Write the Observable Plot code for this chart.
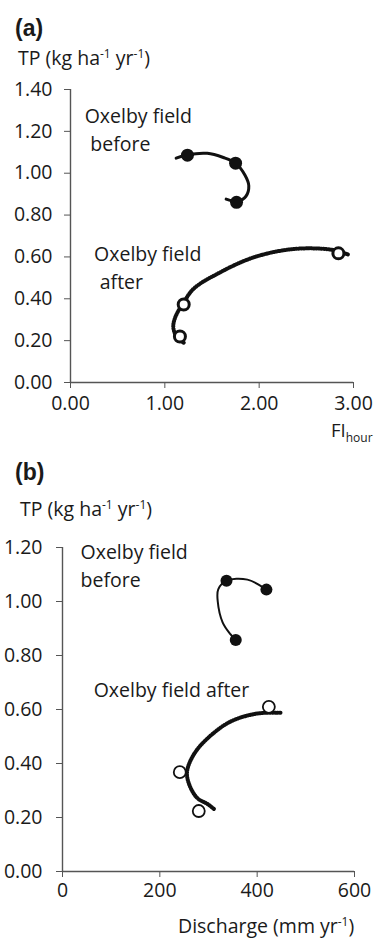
<!DOCTYPE html>
<html><head><meta charset="utf-8">
<script src="https://cdn.jsdelivr.net/npm/d3@7"></script>
<script src="https://cdn.jsdelivr.net/npm/@observablehq/plot@0.6"></script>
<style>
body{margin:0;background:#fff;font-family:"Open Sans",sans-serif;color:#1a1a1a}
#wrap{position:relative;width:375px;height:938px;overflow:hidden}
.abs{position:absolute;white-space:nowrap;line-height:1}
.pl{font-family:"Liberation Sans",Arial,sans-serif;font-weight:bold;font-size:23px}
.yl{font-size:19.5px}
sup,sub{font-size:12px;line-height:0}
</style></head>
<body><div id="wrap">
<div class="abs pl" style="left:15px;top:17px">(a)</div>
<div class="abs yl" style="left:18px;top:48px">TP (kg ha<sup>-1</sup> yr<sup>-1</sup>)</div>
<div id="pa" class="abs" style="left:0;top:75px"></div>
<div class="abs" style="left:331px;top:421px;font-size:18.5px">FI<sub style="vertical-align:-5px">hour</sub></div>
<div class="abs pl" style="left:15px;top:461px">(b)</div>
<div class="abs yl" style="left:20px;top:499px">TP (kg ha<sup>-1</sup> yr<sup>-1</sup>)</div>
<div id="pb" class="abs" style="left:0;top:530px"></div>
<div class="abs yl" style="left:178px;top:916px">Discharge (mm yr<sup>-1</sup>)</div>
</div>
<script>
// Panel (a): TP vs FI_hour
const aYTicks = [0, 0.2, 0.4, 0.6, 0.8, 1.0, 1.2, 1.4];
const aXTicks = [0, 1, 2, 3];
const aBeforeX = [1.24, 1.75, 1.76];
const aBeforeY = [1.086, 1.048, 0.861];
const aAfterX = [2.84, 1.20, 1.16];
const aAfterY = [0.617, 0.373, 0.22];
const aBeforeCurveX = [1.12, 1.24, 1.45, 1.62, 1.75, 1.85, 1.89, 1.86, 1.77, 1.65];
const aBeforeCurveY = [1.072, 1.088, 1.095, 1.075, 1.048, 0.99, 0.94, 0.89, 0.865, 0.876];
const aAfterCurveX = [1.20, 1.13, 1.09, 1.11, 1.20, 1.31, 1.56, 1.91, 2.26, 2.54, 2.80, 2.94];
const aAfterCurveY = [0.19, 0.215, 0.263, 0.311, 0.383, 0.45, 0.52, 0.593, 0.632, 0.641, 0.632, 0.612];
const aLabels = ["Oxelby field", "before", "Oxelby field", "after"];
const aLabelX = [0.15, 0.21, 0.25, 0.31];
const aLabelY = [1.268, 1.134, 0.612, 0.478];

// Panel (b): TP vs Discharge
const bYTicks = [0, 0.2, 0.4, 0.6, 0.8, 1.0, 1.2];
const bXTicks = [0, 200, 400, 600];
const bBeforeX = [337, 419, 356];
const bBeforeY = [1.077, 1.044, 0.857];
const bAfterX = [424, 241, 280];
const bAfterY = [0.61, 0.368, 0.224];
const bBeforeCurveX = [419, 380, 337, 320, 319, 329, 345, 356];
const bBeforeCurveY = [1.044, 1.081, 1.077, 1.045, 1.0, 0.923, 0.879, 0.857];
const bAfterCurveX = [448, 400, 345, 298, 270, 256, 260, 277, 298, 311];
const bAfterCurveY = [0.588, 0.585, 0.555, 0.493, 0.434, 0.371, 0.324, 0.272, 0.25, 0.232];
const bLabels = ["Oxelby field", "before", "Oxelby field after"];
const bLabelX = [37, 37, 64];
const bLabelY = [1.18, 1.077, 0.669];

const zip = (xs, ys) => xs.map((x, i) => ({x, y: ys[i]}));
const axisColor = "#555";

function panel(o) {
  return Plot.plot({
    width: 375, height: o.height,
    marginLeft: o.ml, marginRight: o.mr, marginTop: o.mt, marginBottom: o.mb,
    style: {fontFamily: "Open Sans, sans-serif", fontSize: "19.5px", color: "#1a1a1a", background: "transparent"},
    x: {domain: o.xd}, y: {domain: o.yd},
    marks: [
      Plot.ruleX([o.xd[0]], {y1: o.yd[0], y2: o.yd[1], stroke: axisColor, strokeWidth: 1.4}),
      Plot.ruleY([o.yd[0]], {x1: o.xd[0], x2: o.xd[1], stroke: axisColor, strokeWidth: 1.4}),
      Plot.axisY(o.yt, {tickSize: 6, tickPadding: o.ytp, stroke: axisColor, tickFormat: d => d.toFixed(2), label: null}),
      Plot.axisX(o.xt, {tickSize: 6, tickPadding: o.xtp, stroke: axisColor, tickFormat: o.xf, label: null}),
      Plot.line(zip(o.bcx, o.bcy), {x: "x", y: "y", curve: "catmull-rom", stroke: "#111", strokeWidth: o.bcw}),
      Plot.line(zip(o.acx, o.acy), {x: "x", y: "y", curve: "catmull-rom", stroke: "#111", strokeWidth: 1.6}),
      Plot.line(zip(o.acx, o.acy), {x: "x", y: "y", curve: "catmull-rom", stroke: "#111", strokeWidth: 4, strokeDasharray: "0.9 1.6"}),
      Plot.dot(zip(o.bx, o.by), {x: "x", y: "y", r: o.fr, fill: "#111", stroke: "none"}),
      Plot.dot(zip(o.ax, o.ay), {x: "x", y: "y", r: o.or, fill: "white", stroke: "#111", strokeWidth: o.ow}),
      Plot.text(o.lab.map((t, i) => ({t, x: o.lx[i], y: o.ly[i]})), {x: "x", y: "y", text: "t", textAnchor: "start", lineAnchor: "middle", fill: "#1a1a1a", fontSize: 19.5})
    ]
  });
}

document.getElementById("pa").appendChild(panel({
  height: 350, ml: 70, mr: 22, mt: 14, mb: 43,
  xd: [0, 3], yd: [0, 1.4], xt: aXTicks, yt: aYTicks, ytp: 12, xtp: 8,
  xf: d => d.toFixed(2),
  bx: aBeforeX, by: aBeforeY, ax: aAfterX, ay: aAfterY,
  bcx: aBeforeCurveX, bcy: aBeforeCurveY, acx: aAfterCurveX, acy: aAfterCurveY,
  bcw: 3, fr: 6.5, or: 5.5, ow: 3,
  lab: aLabels, lx: aLabelX, ly: aLabelY
}));

document.getElementById("pb").appendChild(panel({
  height: 375, ml: 62, mr: 21, mt: 17, mb: 34,
  xd: [0, 600], yd: [0, 1.2], xt: bXTicks, yt: bYTicks, ytp: 14, xtp: 6,
  xf: d => String(d),
  bx: bBeforeX, by: bBeforeY, ax: bAfterX, ay: bAfterY,
  bcx: bBeforeCurveX, bcy: bBeforeCurveY, acx: bAfterCurveX, acy: bAfterCurveY,
  bcw: 2, fr: 6, or: 6, ow: 1.8,
  lab: bLabels, lx: bLabelX, ly: bLabelY
}));
</script>
</body></html>
